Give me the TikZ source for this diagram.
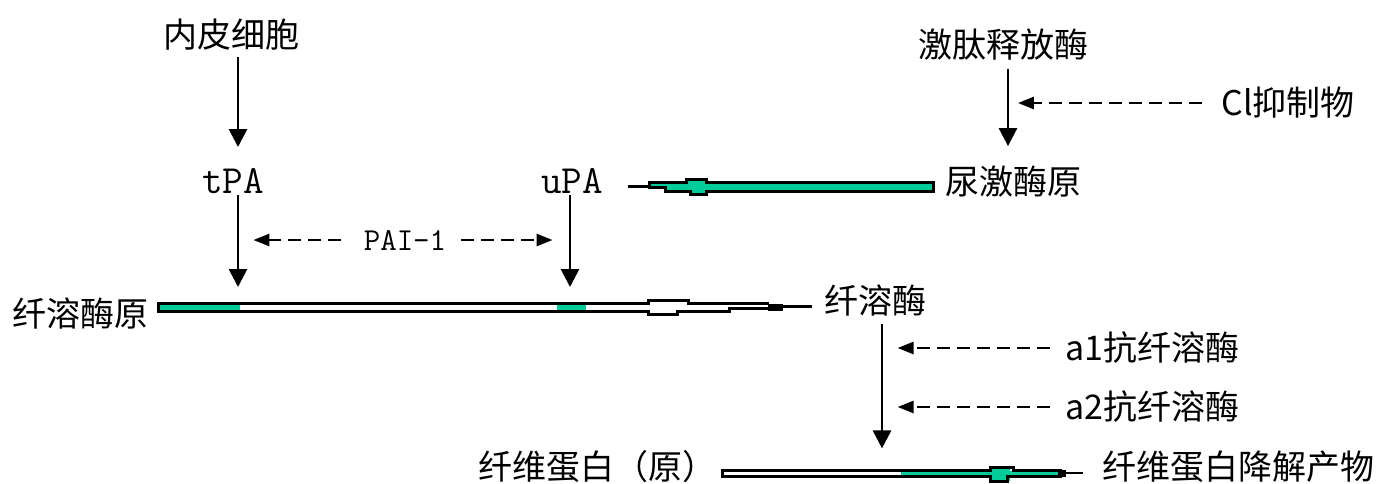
\documentclass[tikz,border=0pt]{standalone}
\usepackage{fontspec}
\setmainfont{Noto Sans CJK SC}
\usetikzlibrary{arrows.meta}
\definecolor{teal1}{RGB}{0,204,153}
\begin{document}
\begin{tikzpicture}[x=0.5pt,y=-0.5pt,
  lbl/.style={font=\fontsize{17}{20}\selectfont, inner sep=0pt},
  mono/.style={font=\fontsize{20}{22}\selectfont\ttfamily, inner sep=0pt},
  arr/.style={line width=1.4pt, -{Triangle[length=9pt,width=9pt]}},
  dsh/.style={line width=1.3pt, dash pattern=on 6.5pt off 3.5pt, -{Triangle[length=8pt,width=6pt]}},
  bar/.style={line width=1.5pt, draw=black},
]
\useasboundingbox (0,0) rectangle (1378,483);
% nodes
\node[mono] (tpa) at (233,181) {tPA};
\node[mono] (upa) at (572,181) {uPA};
\node[mono, font=\fontsize{16}{18}\selectfont\ttfamily] (pai) at (405,240) {PAI-1};
\node[lbl] (nei) at (231,35) {内皮细胞};
\node[lbl] (jtsf) at (1003,45) {激肽释放酶};
\node[lbl] (cl) at (1288,103) {Cl抑制物};
\node[lbl] (njmy) at (1013,182) {尿激酶原};
\node[lbl] (xrmy) at (80,313) {纤溶酶原};
\node[lbl] (xrm) at (875,300) {纤溶酶};
\node[lbl] (a1) at (1152,348) {a1抗纤溶酶};
\node[lbl] (a2) at (1152,407) {a2抗纤溶酶};
\node[lbl] (xwdb) at (597,467) {纤维蛋白（原）};
\node[lbl] (jjcw) at (1238,467) {纤维蛋白降解产物};
% vertical arrows
\draw[arr] ([xshift=3.5pt,yshift=-3pt]nei.south) -- ([xshift=2.5pt]tpa.center |- 0,147);
\draw[arr] ([xshift=2.5pt]tpa.center |- 0,195) -- ([xshift=2.5pt]tpa.center |- 0,287);
\draw[arr] ([xshift=-1pt]upa.center |- 0,195) -- ([xshift=-1pt]upa.center |- 0,287);
\draw[arr] ([xshift=2.5pt,yshift=-4pt]jtsf.south) -- ([xshift=2.5pt,yshift=-42.5pt]jtsf.south);
\draw[arr] ([xshift=3.5pt,yshift=-4pt]xrm.south) -- ([xshift=3.5pt,yshift=1pt]xwdb.north -| xrm.south);
% dashed arrows
\draw[dsh] ([xshift=-11pt]pai.west) -- ([xshift=-55pt]pai.west);
\draw[dsh] ([xshift=7pt]pai.east) -- ([xshift=53pt]pai.east);
\draw[dsh] ([xshift=-9.5pt]cl.west) -- ([xshift=-101.5pt]cl.west);
\draw[dsh] ([xshift=-7.5pt]a1.west) -- ([xshift=-83.5pt]a1.west);
\draw[dsh] ([xshift=-7.5pt]a2.west) -- ([xshift=-83.5pt]a2.west);
% fat arrow: 尿激酶原 -> uPA
\filldraw[bar, fill=teal1] (933,182.5) -- (706,182.5) -- (706,179.5) -- (686,179.5) -- (686,182.5) -- (649,182.5) -- (649,187) -- (665,187) -- (665,191.5) -- (690,191.5) -- (690,194.5) -- (706,194.5) -- (706,191.5) -- (933,191.5) -- cycle;
\draw[line width=1.5pt] (628,186) -- (650,186);
% fat arrow: 纤溶酶原 -> 纤溶酶
\fill[teal1] (160,305) rectangle (240,311);
\fill[teal1] (557,305) rectangle (586,311);
\draw[bar] (769,303.5) -- (688,303.5) -- (688,300.5) -- (648,300.5) -- (648,303.5) -- (158.5,303.5) -- (158.5,311.5) -- (648,311.5) -- (648,314.5) -- (677,314.5) -- (677,311.5) -- (729,311.5) -- (729,308.5) -- (769,308.5);
\fill (768,304) rectangle (783,311);
\draw[line width=1.5pt] (783,306.5) -- (812,306.5);
% fat arrow: 纤维蛋白（原） -> 降解产物
\fill[teal1] (901,471) rectangle (1062,476) (990,468) rectangle (1010,481);
\draw[bar] (1062,470.5) -- (1013,470.5) -- (1013,467.5) -- (990,467.5) -- (990,470.5) -- (722,470.5) -- (722,476) -- (990,476) -- (990,481) -- (1007,481) -- (1007,476) -- (1062,476);
\fill (1058,469.5) rectangle (1066,477);
\draw[line width=1.3pt] (1062,473) -- (1083,473);
\end{tikzpicture}
\end{document}
